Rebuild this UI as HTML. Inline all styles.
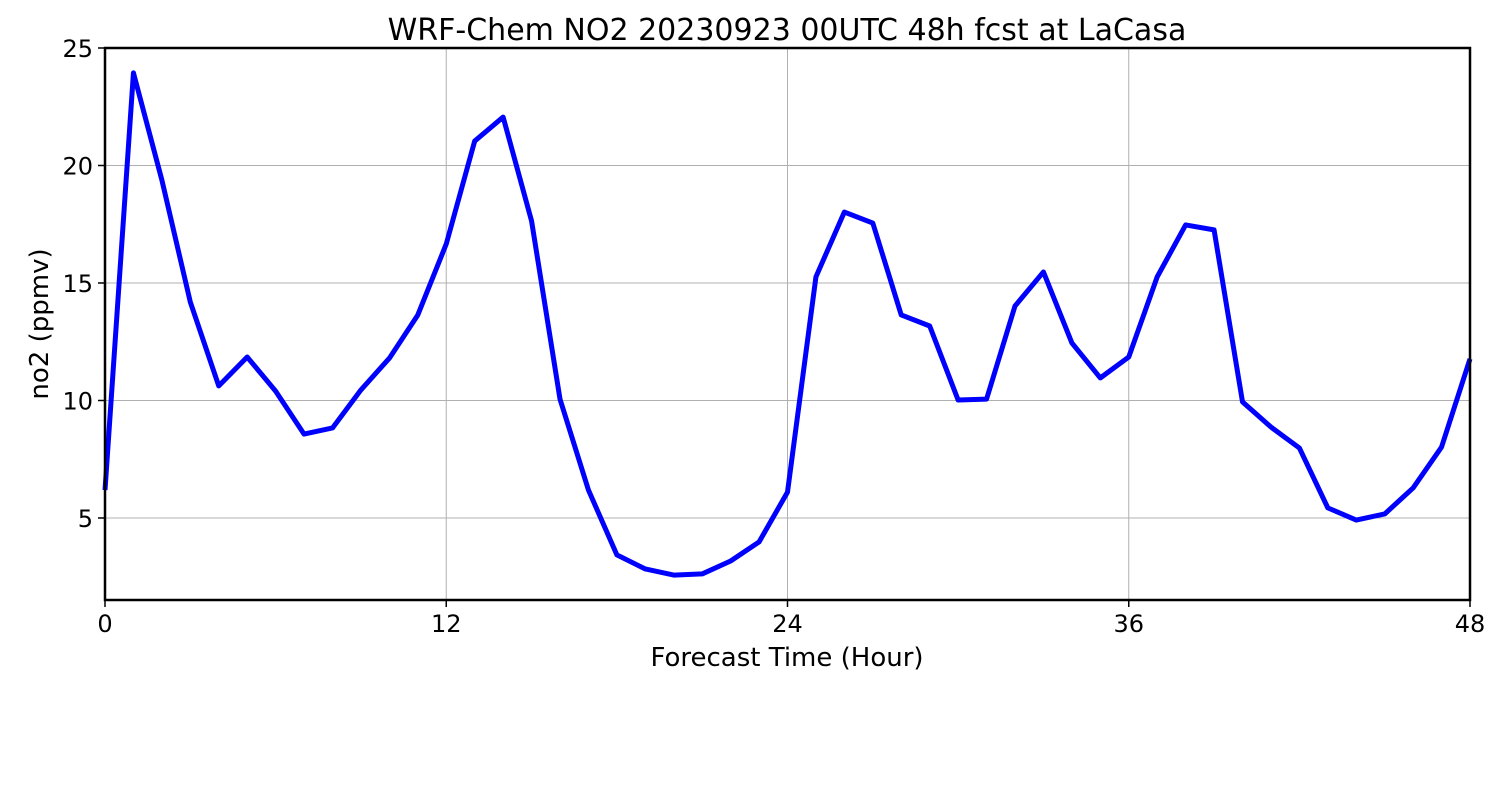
<!DOCTYPE html>
<html><head><meta charset="utf-8"><style>
html,body{margin:0;padding:0;background:#fff;}
svg{display:block;font-family:"DejaVu Sans","Liberation Sans",sans-serif;}
</style></head><body>
<svg id="chart" width="1500" height="800">
<rect width="1500" height="800" fill="#fff"/>
<text x="787" y="40" font-size="30" text-anchor="middle">WRF-Chem NO2  20230923 00UTC 48h fcst at LaCasa</text>
<g id="grid"></g>
<g id="ticks"></g>
<polyline id="line" fill="none" stroke="#0000ff" stroke-width="5" stroke-linejoin="round"/>
<rect x="105" y="48" width="1365" height="552" fill="none" stroke="#000" stroke-width="2.5"/>
<text x="787" y="666" font-size="26" text-anchor="middle">Forecast Time (Hour)</text>
<text transform="translate(48,324) rotate(-90)" font-size="26" text-anchor="middle">no2  (ppmv)</text>
</svg>
<script>
const hours = [0,1,2,3,4,5,6,7,8,9,10,11,12,13,14,15,16,17,18,19,20,21,22,23,24,25,26,27,28,29,30,31,32,33,34,35,36,37,38,39,40,41,42,43,44,45,46,47,48];
const no2 = [6.19,23.94,19.38,14.19,10.62,11.85,10.4,8.57,8.83,10.45,11.8,13.64,16.66,21.04,22.06,17.64,10.06,6.19,3.43,2.83,2.57,2.62,3.17,3.98,6.1,15.26,18.02,17.55,13.64,13.17,10.02,10.06,14.02,15.47,12.45,10.96,11.85,15.26,17.47,17.26,9.94,8.87,7.98,5.43,4.91,5.17,6.28,8.02,11.77];
const xTicks = [0,12,24,36,48];
const yTicks = [5,10,15,20,25];
const xMin=0,xMax=48,yMin=1.51,yMax=25;
const L=105,R=1470,T=48,B=600;
const sx=v=>L+(v-xMin)/(xMax-xMin)*(R-L);
const sy=v=>B-(v-yMin)/(yMax-yMin)*(B-T);
const NS="http://www.w3.org/2000/svg";
const grid=document.getElementById('grid'),ticks=document.getElementById('ticks');
function mk(tag,attrs,parent){const e=document.createElementNS(NS,tag);for(const k in attrs)e.setAttribute(k,attrs[k]);parent.appendChild(e);return e;}
xTicks.forEach(t=>{
  const x=sx(t);
  const g=mk('line',{x1:x,x2:x,y1:T,y2:B,stroke:'#b0b0b0','stroke-width':1},grid);
  
  
  const tk=mk('line',{x1:x,x2:x,y1:B,y2:B+7,stroke:'#000','stroke-width':1.5},ticks);
  
  
  const lb=mk('text',{x:x,y:B+32,'font-size':24,'text-anchor':'middle'},ticks);
  lb.textContent=t;
  
  
});
yTicks.forEach(t=>{
  const y=sy(t);
  const g=mk('line',{x1:L,x2:R,y1:y,y2:y,stroke:'#b0b0b0','stroke-width':1},grid);
  
  
  const tk=mk('line',{x1:L-7,x2:L,y1:y,y2:y,stroke:'#000','stroke-width':1.5},ticks);
  
  
  const lb=mk('text',{x:L-12,y:y+9,'font-size':24,'text-anchor':'end'},ticks);
  lb.textContent=t;
  
  
});
document.getElementById('line').setAttribute('points',hours.map((h,i)=>sx(h)+','+sy(no2[i])).join(' '));
</script>
</body></html>
